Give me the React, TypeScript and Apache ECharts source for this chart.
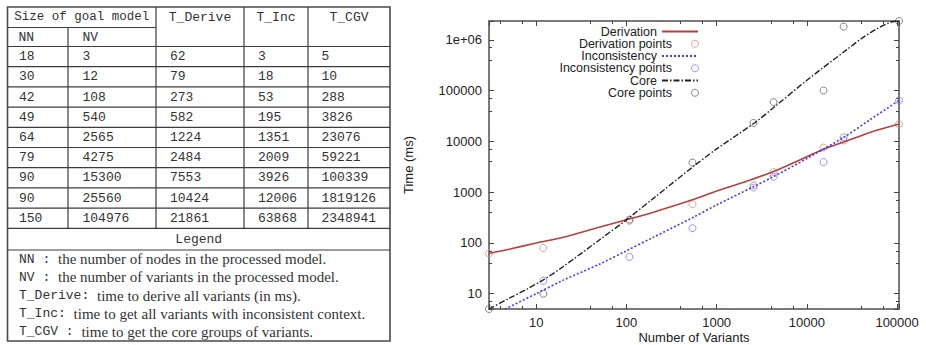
import React, { useEffect, useRef } from "react";
import * as echarts from "echarts";

// ---------------- table data ----------------
const tableHeaders = ["Size of goal model", "T_Derive", "T_Inc", "T_CGV"];
const subHeaders = ["NN", "NV"];
const nodeCounts = [18, 30, 42, 49, 64, 79, 90, 90, 150];
const variantCounts = [3, 12, 108, 540, 2565, 4275, 15300, 25560, 104976];
const deriveTimes = [62, 79, 273, 582, 1224, 2484, 7553, 10424, 21861];
const incTimes = [3, 18, 53, 195, 1351, 2009, 3926, 12006, 63868];
const cgvTimes = [5, 10, 288, 3826, 23076, 59221, 100339, 1819126, 2348941];
const legendTitle = "Legend";
const legendTerms = ["NN", "NV", "T_Derive", "T_Inc", "T_CGV"];
const legendSeps = [" : ", " : ", ": ", ": ", " : "];
const legendDefs = [
  "the number of nodes in the processed model.",
  "the number of variants in the processed model.",
  "time to derive all variants (in ms).",
  "time to get all variants with inconsistent context.",
  "time to get the core groups of variants.",
];

// ---------------- fitted curves ----------------
const deriveFitX = [3, 5, 10, 20, 50, 100, 200, 540, 1000, 2000, 4275, 10000, 15300, 25560, 50000, 104976];
const deriveFitY = [62, 75, 100, 130, 204, 285, 404, 706, 1050, 1560, 2550, 5000, 7000, 9700, 15000, 22000];
const incFitX = [4.5, 10, 20, 50, 100, 200, 540, 1000, 2565, 4275, 10000, 25560, 50000, 104976];
const incFitY = [5, 10, 18.5, 38, 70, 130, 314, 560, 1280, 2030, 4600, 12000, 26700, 63868];
const coreFitX = [3, 5, 8, 12, 20, 50, 100, 200, 552, 1000, 2667, 4450, 10000, 27700, 40000, 60000, 80000, 95000, 104976];
const coreFitY = [5, 8.1, 12.5, 18.7, 34.4, 114, 285, 760, 3200, 7100, 23600, 48900, 160000, 640000, 1050000, 1660000, 2140000, 2320000, 2348941];

const seriesNames = ["Derivation", "Derivation points", "Inconsistency", "Inconsistency points", "Core", "Core points"];
const xAxisTitle = "Number of Variants";
const yAxisTitle = "Time (ms)";

const SANS = "Liberation Sans, Arial, Helvetica, sans-serif";
const MONO = "Liberation Mono, Courier New, monospace";
const SERIF = "Liberation Serif, Times New Roman, serif";

const C_DER = "#b8403a";
const C_DER_PT = "#d88a8a";
const C_INC = "#3c3cff";
const C_INC_PT = "#7878ff";
const C_CORE = "#222222";
const C_CORE_PT = "#666666";

const pairs = (xs: number[], ys: number[]) => xs.map((x, i) => [x, ys[i]]);

const fmtLog = (v: number) => {
  const l = Math.log10(v);
  const r = Math.round(l);
  if (Math.abs(l - r) > 1e-6) return "";
  return r >= 6 ? `1e+${String(r).padStart(2, "0")}` : String(Math.round(Math.pow(10, r)));
};

function buildTable(): any[] {
  const els: any[] = [];
  const L = 7.5, R = 390, T = 7, B = 341;
  const colX = [7.5, 68, 156, 244, 308, 390];
  const h1 = 27.5, h2 = 46.5, rowH = 20.2;
  const dataBottom = h2 + rowH * nodeCounts.length;
  const legendRowBottom = 250;
  const legendLineH = (B - legendRowBottom) / legendTerms.length;
  const ls = { stroke: "#3c3c3c", lineWidth: 1.2 };
  const line = (x1: number, y1: number, x2: number, y2: number) => ({
    type: "line", silent: true, shape: { x1, y1, x2, y2 }, style: ls,
  });
  const text = (t: string, x: number, y: number, align = "left", size = 13) => ({
    type: "text", silent: true, x, y,
    style: { text: t, fill: "#333", fontSize: size, fontFamily: MONO, align, verticalAlign: "middle" },
  });
  els.push({ type: "rect", silent: true, shape: { x: L, y: T, width: R - L, height: B - T }, style: { fill: "none", stroke: "#4a4a4a", lineWidth: 1.6 } });
  els.push(line(L, h1, colX[2], h1));
  for (let k = 0; k <= nodeCounts.length; k++) els.push(line(L, h2 + k * rowH, R, h2 + k * rowH));
  els.push(line(L, legendRowBottom, R, legendRowBottom));
  els.push(line(colX[1], h1, colX[1], dataBottom));
  for (let c = 2; c <= 4; c++) els.push(line(colX[c], T, colX[c], dataBottom));

  els.push(text(tableHeaders[0], (colX[0] + colX[2]) / 2, (T + h1) / 2, "center", 12.5));
  for (let c = 1; c < 4; c++) els.push(text(tableHeaders[c], (colX[c + 1] + colX[c + 2]) / 2, (T + h1) / 2, "center"));
  els.push(text(subHeaders[0], colX[0] + 11, (h1 + h2) / 2));
  els.push(text(subHeaders[1], colX[1] + 14.5, (h1 + h2) / 2));

  const cols = [nodeCounts, variantCounts, deriveTimes, incTimes, cgvTimes];
  const pad = [11.5, 14.5, 14, 14, 13.5];
  cols.forEach((col, c) => {
    col.forEach((v, r) => {
      els.push(text(String(v), colX[c] + pad[c], h2 + (r + 0.5) * rowH));
    });
  });
  els.push(text(legendTitle, (L + R) / 2, (dataBottom + legendRowBottom) / 2, "center"));
  legendTerms.forEach((term, i) => {
    els.push({
      type: "text", silent: true, x: 19, y: legendRowBottom + (i + 0.5) * legendLineH,
      style: {
        text: `{m|${term}${legendSeps[i]}}{s|${legendDefs[i]}}`,
        verticalAlign: "middle", align: "left",
        rich: {
          m: { fontFamily: MONO, fontSize: 13, fill: "#333" },
          s: { fontFamily: SERIF, fontSize: 15, fill: "#333" },
        },
      },
    });
  });
  return els;
}

export default function App() {
  const ref = useRef<HTMLDivElement>(null);
  useEffect(() => {
    if (!ref.current) return;
    const chart = echarts.init(ref.current, null, { renderer: "svg" });
    const xMin = Math.min(...variantCounts);
    const xMax = Math.max(...variantCounts);
    const yMin = Math.min(...cgvTimes);
    const yMax = Math.max(...cgvTimes);
    const frame = { show: true, onZero: false, lineStyle: { color: "#7a7a7a", width: 2 } };
    const tick = { show: true, inside: true, length: 5, lineStyle: { color: "#444", width: 1 } };
    const minor = { show: true, splitNumber: 3, length: 3, lineStyle: { color: "#444", width: 1 } };
    const labelStyle = { fontFamily: SANS, fontSize: 13, color: "#222" };
    const pointColors = [C_DER_PT, C_INC_PT, C_CORE_PT];

    const option: any = {
      animation: false,
      backgroundColor: "#ffffff",
      grid: { left: 489, top: 21, width: 410, height: 288, containLabel: false, outerBoundsMode: "none" },
      xAxis: [
        {
          type: "log", logBase: 10, min: xMin, max: xMax, position: "bottom",
          name: xAxisTitle, nameLocation: "middle", nameGap: 22, nameMoveOverlap: false,
          nameTextStyle: { ...labelStyle },
          axisLine: frame, axisTick: tick, minorTick: minor,
          axisLabel: { ...labelStyle, margin: 7, formatter: fmtLog },
          splitLine: { show: false }, minorSplitLine: { show: false },
        },
        {
          type: "log", logBase: 10, min: xMin, max: xMax, position: "top",
          axisLine: frame, axisTick: tick, minorTick: minor,
          axisLabel: { show: false }, splitLine: { show: false },
        },
      ],
      yAxis: [
        {
          type: "log", logBase: 10, min: yMin, max: yMax, position: "left",
          name: yAxisTitle, nameLocation: "middle", nameGap: 74, nameRotate: 90,
          nameTextStyle: { ...labelStyle },
          axisLine: frame, axisTick: tick, minorTick: minor,
          axisLabel: { ...labelStyle, margin: 7, formatter: fmtLog },
          splitLine: { show: false }, minorSplitLine: { show: false },
        },
        {
          type: "log", logBase: 10, min: yMin, max: yMax, position: "right",
          axisLine: frame, axisTick: tick, minorTick: minor,
          axisLabel: { show: false }, splitLine: { show: false },
        },
      ],
      legend: seriesNames.map((name, i) => {
        const isPts = i % 2 === 1;
        const base: any = {
          data: [name], orient: "horizontal", align: "right",
          right: 227, top: 25 + i * 12.25,
          itemWidth: 36, itemHeight: 7, padding: 0, itemGap: 0,
          selectedMode: false,
          textStyle: { ...labelStyle, fontSize: 12.5, lineHeight: 12 },
        };
        if (isPts) {
          base.itemStyle = { color: "rgba(0,0,0,0)", borderColor: pointColors[(i - 1) / 2], borderWidth: 1 };
        } else {
          base.itemStyle = { color: "rgba(0,0,0,0)", borderColor: "rgba(0,0,0,0)", borderWidth: 0, opacity: 0 };
        }
        return base;
      }),
      series: [
        {
          name: seriesNames[0], type: "line", data: pairs(deriveFitX, deriveFitY),
          symbol: "none", smooth: 0.3, z: 3,
          lineStyle: { color: C_DER, width: 1.6 }, itemStyle: { color: C_DER },
        },
        {
          name: seriesNames[1], type: "scatter", data: pairs(variantCounts, deriveTimes),
          symbol: "circle", symbolSize: 7, z: 2,
          itemStyle: { color: "rgba(0,0,0,0)", borderColor: C_DER_PT, borderWidth: 1 },
        },
        {
          name: seriesNames[2], type: "line", data: pairs(incFitX, incFitY),
          symbol: "none", smooth: 0.3, z: 3,
          lineStyle: { color: C_INC, width: 1.6, type: [2, 2] }, itemStyle: { color: C_INC },
        },
        {
          name: seriesNames[3], type: "scatter", data: pairs(variantCounts, incTimes),
          symbol: "circle", symbolSize: 7, z: 2,
          itemStyle: { color: "rgba(0,0,0,0)", borderColor: C_INC_PT, borderWidth: 1 },
        },
        {
          name: seriesNames[4], type: "line", data: pairs(coreFitX, coreFitY),
          symbol: "none", smooth: 0.3, z: 3,
          lineStyle: { color: C_CORE, width: 1.4, type: [6, 2, 1.5, 2] }, itemStyle: { color: C_CORE },
        },
        {
          name: seriesNames[5], type: "scatter", data: pairs(variantCounts, cgvTimes),
          symbol: "circle", symbolSize: 7, z: 2,
          itemStyle: { color: "rgba(0,0,0,0)", borderColor: C_CORE_PT, borderWidth: 1 },
        },
      ],
      graphic: buildTable(),
    };
    chart.setOption(option);
    return () => chart.dispose();
  }, []);
  return <div ref={ref} style={{ position: "absolute", left: 0, top: 0, width: 926, height: 345 }} />;
}
